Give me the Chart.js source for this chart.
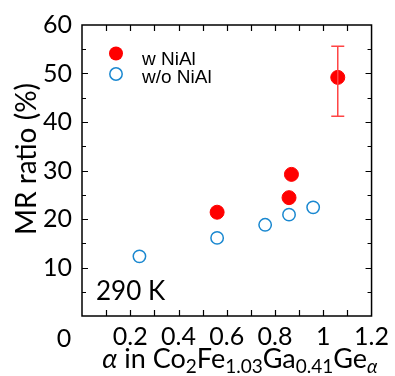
<!DOCTYPE html>
<html>
<head>
<meta charset="utf-8">
<script src="https://cdn.jsdelivr.net/npm/chart.js@4"></script>
<style>
  html, body { margin: 0; padding: 0; background: #fff; }
  #wrap { width: 395px; height: 376px; }
</style>
</head>
<body>
<div id="wrap"><canvas id="mrChart"></canvas></div>
<script>
// data
const withX = [0.56, 0.858, 0.868, 1.06];
const withY = [21.4, 24.4, 29.2, 49.2];
const withErrLow = [null, null, null, 41.2];
const withErrHigh = [null, null, null, 55.6];

const withoutX = [0.238, 0.56, 0.759, 0.858, 0.958];
const withoutY = [12.3, 16.1, 18.8, 20.9, 22.4];

const xTicks = [0, 0.2, 0.4, 0.6, 0.8, 1.0, 1.2];
const yTicks = [0, 10, 20, 30, 40, 50, 60];

const FONT = 'Lato, "Open Sans", sans-serif';
const LEGEND_FONT = '"Liberation Sans", Arial, sans-serif';
const RED = '#ff0000';
const BLUE = '#1a88d0';

const toPoints = (xs, ys) => xs.map((x, i) => ({ x: x, y: ys[i] }));

// frame, inward ticks, error bars, legend and labels
const decor = {
  id: 'decor',
  afterDraw(chart) {
    const ctx = chart.ctx;
    const a = chart.chartArea;
    const xs = chart.scales.x, ys = chart.scales.y;
    ctx.save();
    ctx.strokeStyle = '#000';
    ctx.lineWidth = 1.5;
    ctx.strokeRect(a.left, a.top, a.right - a.left, a.bottom - a.top);

    ctx.lineWidth = 1.2;
    ctx.beginPath();
    for (let v = 0.1; v < 1.2; v += 0.1) {
      const px = Math.round(xs.getPixelForValue(v)) + 0.5;
      const len = 6;
      ctx.moveTo(px, a.bottom); ctx.lineTo(px, a.bottom - len);
      ctx.moveTo(px, a.top); ctx.lineTo(px, a.top + len);
    }
    for (let v = 5; v < 60; v += 5) {
      const py = Math.round(ys.getPixelForValue(v)) + 0.5;
      const len = v % 10 === 0 ? 6 : 4;
      ctx.moveTo(a.left, py); ctx.lineTo(a.left + len, py);
      ctx.moveTo(a.right, py); ctx.lineTo(a.right - len, py);
    }
    ctx.stroke();

    // error bars
    ctx.strokeStyle = '#ff4444';
    ctx.lineWidth = 1.5;
    ctx.beginPath();
    withX.forEach((x, i) => {
      if (withErrLow[i] == null) return;
      const px = xs.getPixelForValue(x);
      const lo = ys.getPixelForValue(withErrLow[i]);
      const hi = ys.getPixelForValue(withErrHigh[i]);
      ctx.moveTo(px, lo); ctx.lineTo(px, hi);
      ctx.moveTo(px - 6.5, lo); ctx.lineTo(px + 6.5, lo);
      ctx.moveTo(px - 6.5, hi); ctx.lineTo(px + 6.5, hi);
    });
    ctx.stroke();

    // legend
    ctx.fillStyle = RED;
    ctx.beginPath(); ctx.arc(116, 53.5, 7, 0, Math.PI * 2); ctx.fill();
    ctx.strokeStyle = BLUE; ctx.lineWidth = 1.5;
    ctx.beginPath(); ctx.arc(116, 74, 6.2, 0, Math.PI * 2); ctx.stroke();
    ctx.fillStyle = '#000';
    ctx.font = '19px ' + LEGEND_FONT;
    ctx.textAlign = 'left'; ctx.textBaseline = 'alphabetic';
    ctx.fillText('w NiAl', 142, 64.5);
    ctx.fillText('w/o NiAl', 142, 82.5);

    // temperature label
    ctx.font = '26px ' + FONT;
    ctx.fillText('290 K', 96, 300);

    // shared zero at the corner
    ctx.font = '25px ' + FONT;
    ctx.textAlign = 'center';
    ctx.fillText('0', 64, 347);

    // y title
    ctx.save();
    ctx.font = '28px ' + FONT;
    ctx.translate(36, 159);
    ctx.rotate(-Math.PI / 2);
    ctx.textAlign = 'center';
    ctx.fillText('MR ratio (%)', 0, 0);
    ctx.restore();

    // x title with subscripts
    const parts = [
      { t: '\u03b1', it: true },
      { t: ' in Co' }, { t: '2', sub: true },
      { t: 'Fe' }, { t: '1.03', sub: true },
      { t: 'Ga' }, { t: '0.41', sub: true },
      { t: 'Ge' }, { t: '\u03b1', sub: true, it: true }
    ];
    const fontOf = p => (p.it ? 'italic ' : '') + (p.sub ? '19px ' : '27px ') + FONT;
    let total = 0;
    parts.forEach(p => { ctx.font = fontOf(p); total += ctx.measureText(p.t).width; });
    let x = 240 - total / 2;
    const base = 368;
    ctx.textAlign = 'left';
    parts.forEach(p => {
      ctx.font = fontOf(p);
      ctx.fillText(p.t, x, p.sub ? base + 5 : base);
      x += ctx.measureText(p.t).width;
    });
    ctx.restore();
  }
};

new Chart(document.getElementById('mrChart'), {
  type: 'scatter',
  data: {
    datasets: [
      {
        label: 'w NiAl',
        data: toPoints(withX, withY),
        backgroundColor: RED,
        borderColor: RED,
        pointRadius: 7,
        pointHoverRadius: 7
      },
      {
        label: 'w/o NiAl',
        data: toPoints(withoutX, withoutY),
        backgroundColor: 'rgba(0,0,0,0)',
        borderColor: BLUE,
        borderWidth: 1.5,
        pointRadius: 6.2,
        pointHoverRadius: 6.2
      }
    ]
  },
  options: {
    responsive: true,
    maintainAspectRatio: false,
    animation: false,
    events: [],
    layout: { padding: { top: 23, right: 21, left: 0, bottom: 0 } },
    plugins: { legend: { display: false }, tooltip: { enabled: false } },
    scales: {
      x: {
        type: 'linear',
        min: 0, max: 1.2,
        afterFit: s => { s.height = 60; },
        afterBuildTicks: s => { s.ticks = xTicks.map(v => ({ value: v })); },
        grid: { display: false, drawTicks: false },
        border: { display: false },
        ticks: {
          padding: 6,
          color: '#000',
          font: { family: FONT, size: 25 },
          maxRotation: 0,
          autoSkip: false,
          callback: v => {
            const r = Math.round(v * 10) / 10;
            if (r === 0) return '';
            return r === 1 ? '1' : r.toFixed(1);
          }
        }
      },
      y: {
        min: 0, max: 60,
        afterFit: s => { s.width = 82; },
        afterBuildTicks: s => { s.ticks = yTicks.map(v => ({ value: v })); },
        grid: { display: false, drawTicks: false },
        border: { display: false },
        ticks: {
          padding: 10,
          color: '#000',
          font: { family: FONT, size: 25 },
          callback: v => v === 0 ? '' : String(v)
        }
      }
    }
  },
  plugins: [decor]
});
</script>
</body>
</html>
